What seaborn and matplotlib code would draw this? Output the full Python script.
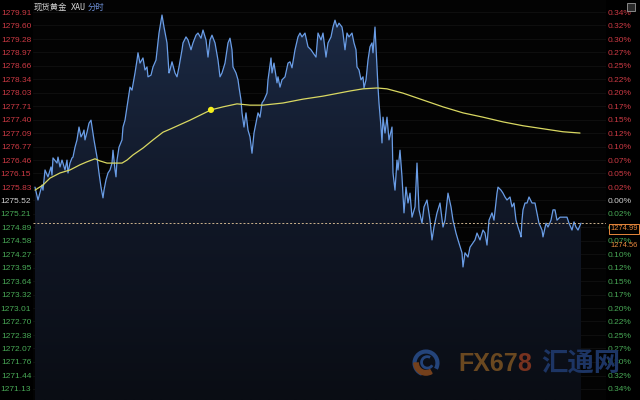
import numpy as np
import pandas as pd
import matplotlib
matplotlib.use("Agg")
import matplotlib.pyplot as plt
import seaborn as sns
from matplotlib.patches import Rectangle, Arc, Wedge
from matplotlib.colors import LinearSegmentedColormap

# ---------------- data ----------------
# sample index along the session (equal time steps)
t_idx = [0, 3, 7, 8, 10, 13, 16, 17, 18, 22,
         23, 25, 27, 28, 30, 32, 33, 35, 37, 38,
         40, 42, 44, 46, 48, 49, 50, 52, 54, 56,
         58, 59, 62, 64, 66, 68, 69, 71, 73, 75,
         77, 78, 80, 81, 82, 84, 87, 88, 90, 93,
         95, 97, 100, 102, 103, 105, 108, 110, 112, 113,
         116, 118, 121, 124, 127, 129, 132, 134, 135, 137,
         140, 142, 144, 147, 148, 151, 153, 156, 158, 161,
         163, 166, 168, 171, 173, 175, 177, 180, 183, 185,
         187, 190, 193, 195, 197, 198, 201, 203, 204, 206,
         207, 209, 211, 213, 215, 217, 219, 221, 223, 225,
         227, 229, 232, 233, 236, 237, 239, 242, 243, 245,
         247, 250, 253, 255, 257, 260, 263, 265, 267, 270,
         273, 276, 278, 281, 283, 286, 288, 291, 293, 296,
         298, 300, 302, 304, 307, 308, 310, 312, 314, 317,
         319, 321, 322, 324, 326, 328, 329, 331, 333, 335,
         337, 338, 340, 341, 342, 343, 344, 346, 347, 348,
         350, 352, 354, 357, 358, 360, 362, 363, 365, 367,
         369, 371, 373, 375, 377, 380, 382, 384, 387, 389,
         392, 395, 397, 399, 402, 405, 408, 410, 413, 416,
         418, 421, 423, 427, 428, 430, 433, 435, 438, 440,
         442, 445, 448, 450, 452, 454, 457, 459, 462, 463,
         466, 468, 470, 472, 475, 477, 479, 481, 483, 485,
         486, 487, 488, 490, 492, 494, 497, 500, 502, 504,
         507, 508, 511, 513, 516, 518, 520, 522, 525, 528,
         532, 534, 537, 539, 541, 543, 546]

price = [1275.83, 1275.53, 1275.88, 1275.76, 1276.23, 1276.07, 1276.30, 1276.11, 1276.51, 1276.39,
         1276.53, 1276.30, 1276.46, 1276.39, 1276.23, 1276.46, 1276.16, 1276.39, 1276.51, 1276.53,
         1276.76, 1276.93, 1277.23, 1277.00, 1277.09, 1277.16, 1276.93, 1277.11, 1277.32, 1277.39,
         1277.09, 1276.93, 1276.53, 1276.16, 1275.83, 1275.58, 1275.76, 1276.00, 1276.16, 1276.23,
         1276.39, 1276.69, 1276.23, 1276.07, 1276.46, 1276.76, 1276.93, 1277.23, 1277.39, 1277.86,
         1278.16, 1278.09, 1278.49, 1278.79, 1278.96, 1278.72, 1278.84, 1278.56, 1278.63, 1278.40,
         1278.44, 1278.63, 1278.79, 1279.42, 1279.84, 1279.56, 1279.19, 1278.49, 1278.56, 1278.75,
         1278.49, 1278.40, 1278.63, 1279.03, 1279.19, 1279.33, 1279.26, 1279.03, 1279.19, 1279.37,
         1279.42, 1279.30, 1279.49, 1279.26, 1278.86, 1279.26, 1279.37, 1279.19, 1278.79, 1278.40,
         1278.49, 1278.72, 1279.19, 1279.30, 1279.03, 1278.63, 1278.49, 1278.33, 1278.16, 1277.86,
         1277.56, 1277.23, 1277.56, 1277.16, 1277.00, 1276.62, 1277.09, 1277.32, 1277.56, 1277.46,
         1277.79, 1277.86, 1278.02, 1278.33, 1278.84, 1278.49, 1278.72, 1278.26, 1278.40, 1278.16,
         1278.33, 1278.40, 1278.72, 1278.75, 1278.61, 1279.03, 1279.33, 1279.42, 1279.33, 1279.42,
         1279.10, 1279.03, 1278.96, 1278.86, 1279.42, 1279.26, 1279.42, 1278.86, 1279.19, 1279.33,
         1279.56, 1279.72, 1279.56, 1279.65, 1279.56, 1279.42, 1279.03, 1279.42, 1279.33, 1279.42,
         1279.19, 1279.03, 1278.63, 1278.56, 1278.33, 1278.40, 1278.14, 1278.33, 1278.79, 1279.10,
         1279.19, 1278.96, 1279.56, 1279.10, 1278.63, 1278.16, 1277.79, 1277.23, 1276.86, 1277.46,
         1277.09, 1277.46, 1276.93, 1277.23, 1276.16, 1275.76, 1276.46, 1276.23, 1276.69, 1276.07,
         1275.23, 1275.83, 1275.46, 1275.69, 1275.13, 1275.37, 1276.39, 1275.30, 1274.99, 1275.37,
         1275.53, 1275.06, 1274.60, 1274.90, 1275.23, 1275.46, 1274.90, 1275.06, 1275.69, 1275.37,
         1275.06, 1274.76, 1274.60, 1274.30, 1273.97, 1274.30, 1274.20, 1274.43, 1274.53, 1274.60,
         1274.76, 1274.60, 1274.83, 1274.76, 1274.48, 1275.06, 1275.23, 1275.06, 1275.69, 1275.83,
         1275.76, 1275.69, 1275.60, 1275.53, 1275.60, 1275.37, 1275.46, 1275.06, 1274.90, 1274.76,
         1274.67, 1275.06, 1275.30, 1275.46, 1275.46, 1275.60, 1275.46, 1275.46, 1275.23, 1274.99,
         1274.83, 1274.67, 1274.99, 1274.90, 1275.06, 1275.30, 1275.30, 1275.06, 1275.13, 1275.13,
         1275.13, 1274.99, 1274.83, 1275.02, 1274.90, 1274.83, 1274.99]

# average-price line
avg_t = [0, 8, 15, 25, 35, 45, 52, 60, 65, 72, 78, 87, 92, 98, 108, 118, 128, 135, 155, 176,
         188, 202, 215, 228, 248, 268, 288, 315, 328, 342, 352, 368, 388, 408, 428, 448, 468,
         488, 508, 528, 545]
avg_p = [1275.76, 1275.88, 1276.04, 1276.16, 1276.23, 1276.35, 1276.42, 1276.49, 1276.44, 1276.39,
         1276.39, 1276.39, 1276.46, 1276.58, 1276.74, 1276.93, 1277.11, 1277.18, 1277.39, 1277.63,
         1277.70, 1277.77, 1277.74, 1277.74, 1277.79, 1277.88, 1277.95, 1278.07, 1278.12, 1278.14,
         1278.12, 1278.02, 1277.86, 1277.70, 1277.56, 1277.46, 1277.35, 1277.26, 1277.19, 1277.12,
         1277.09]
marker_t = 176

last_price = 1274.99
side_price = "1274.56"
base_price = 1275.52

price_labels = ["1279.91", "1279.60", "1279.28", "1278.97", "1278.66", "1278.34", "1278.03",
                "1277.71", "1277.40", "1277.09", "1276.77", "1276.46", "1276.15", "1275.83",
                "1275.52", "1275.21", "1274.89", "1274.58", "1274.27", "1273.95", "1273.64",
                "1273.32", "1273.01", "1272.70", "1272.38", "1272.07", "1271.76", "1271.44",
                "1271.13"]
pct_labels = ["0.34%", "0.32%", "0.30%", "0.27%", "0.25%", "0.22%", "0.20%", "0.17%", "0.15%",
              "0.12%", "0.10%", "0.07%", "0.05%", "0.02%", "0.00%", "0.02%", "0.05%", "0.07%",
              "0.10%", "0.12%", "0.15%", "0.17%", "0.20%", "0.22%", "0.25%", "0.27%", "0.30%",
              "0.32%", "0.34%"]

title_parts = ["现货黄金", "XAU", "分时"]
wm_latin = ["FX67", "8"]
wm_cjk = "汇通网"

# ---------------- styling ----------------
sns.set_theme(style="dark", rc={"axes.facecolor": "#030303", "figure.facecolor": "#000000"})
plt.rcParams["font.family"] = ["Liberation Sans", "DejaVu Sans"]
CJK = ["Noto Sans CJK SC", "DejaVu Sans"]

RED = "#cc3a44"
GREEN = "#48a856"
BASE = "#d2d2d2"
ORANGE = "#e8883c"

W, H = 640, 400
fig = plt.figure(figsize=(6.4, 4.0), dpi=100, facecolor="#000000")
ax = fig.add_axes([33 / W, 0, 573 / W, 1])
ax.set_facecolor("#030303")
X0, X1 = -2, 571
Y0, Y1 = 1270.87, 1280.19
ax.set_xlim(X0, X1)
ax.set_ylim(Y0, Y1)

tick_vals = [float(s) for s in price_labels]

# faint grid
for v in tick_vals:
    ax.axhline(v, color="#111111", lw=0.6, zorder=0.5)

# gradient fill under the price line
poly = ax.fill_between(t_idx, price, Y0, facecolor="none", edgecolor="none")
grad = np.linspace(0, 1, 256).reshape(-1, 1)
cmap = LinearSegmentedColormap.from_list("g", ["#0a0d14", "#111828", "#1c2b46"])
im = ax.imshow(grad, extent=[X0, X1, Y0, Y1], aspect="auto", origin="lower",
               cmap=cmap, zorder=1, interpolation="bilinear")
im.set_clip_path(poly.get_paths()[0], transform=ax.transData)

df = pd.DataFrame({"t": t_idx, "price": price})
dfa = pd.DataFrame({"t": avg_t, "avg": avg_p})

sns.lineplot(data=df, x="t", y="price", ax=ax, color="#6a9de6", lw=0.9,
             estimator=None, zorder=3)
sns.lineplot(data=dfa, x="t", y="avg", ax=ax, color="#d9d862", lw=0.9,
             estimator=None, zorder=4)
mk = dfa[dfa["t"] == marker_t]
sns.scatterplot(data=mk, x="t", y="avg", ax=ax, s=20, color="#f4ee1c",
                edgecolor="none", zorder=5)

ax.axhline(last_price, color="#cdb48e", lw=0.7, ls=(0, (2, 2)), zorder=4)

# left axis labels
ax.set_xticks([])
ax.set_yticks(tick_vals)
ax.set_yticklabels(price_labels)
ax.tick_params(axis="y", length=0, pad=1.2, labelsize=6)
for lab, v in zip(ax.get_yticklabels(), tick_vals):
    lab.set_color(RED if v > base_price else (GREEN if v < base_price else BASE))
ax.set_xlabel("")
ax.set_ylabel("")
for s in ax.spines.values():
    s.set_visible(False)

# right axis percent labels
ax2 = ax.twinx()
ax2.set_ylim(Y0, Y1)
ax2.set_yticks(tick_vals)
ax2.set_yticklabels(pct_labels)
ax2.tick_params(axis="y", length=0, pad=1.4, labelsize=6)
for lab, v in zip(ax2.get_yticklabels(), tick_vals):
    lab.set_color(RED if v > base_price else (GREEN if v < base_price else BASE))
ax2.grid(False)
for s in ax2.spines.values():
    s.set_visible(False)

# current price box and side value
fig.text(610 / W, 1 - 228.5 / H, f"{last_price:.2f}", color=ORANGE, fontsize=5.4,
         va="center", ha="left", zorder=10,
         bbox=dict(facecolor="#000000", edgecolor=ORANGE, boxstyle="square,pad=0.2", lw=0.7))
fig.text(610 / W, 1 - 245 / H, side_price, color=ORANGE, fontsize=5.4,
         va="center", ha="left", zorder=10)

# title
fig.text(34 / W, 1 - 7 / H, title_parts[0], family=CJK, fontsize=6, color="#d4d4d4", va="center")
fig.text(71 / W, 1 - 7 / H, title_parts[1], family="DejaVu Sans Mono", fontsize=6,
         color="#d4d4d4", va="center")
fig.text(88 / W, 1 - 7 / H, title_parts[2], family=CJK, fontsize=6, color="#6d8fd6", va="center")

# top-right icon
fig.add_artist(Rectangle((627 / W, 1 - 11 / H), 8 / W, 8 / H, transform=fig.transFigure,
                         facecolor="#2a2a2a", edgecolor="#9a9a9a", lw=0.6))

# watermark
fig.canvas.draw()
t1 = fig.text(458 / W, 1 - 364 / H, wm_latin[0], fontsize=18, weight="bold",
              color="#6a4820", va="center", ha="left", zorder=2)
fig.canvas.draw()
bb = t1.get_window_extent()
fig.text(bb.x1 / W, 1 - 364 / H, wm_latin[1], fontsize=18, weight="bold",
         color="#78321f", va="center", ha="left", zorder=2)
fig.text(541 / W, 1 - 364 / H, wm_cjk, family=CJK, fontsize=19, weight="bold",
         color="#1d3564", va="center", ha="left", zorder=1)

lax = fig.add_axes([412 / W, 1 - 377 / H, 28 / W, 28 / H])
lax.set_xlim(-1.1, 1.1)
lax.set_ylim(-1.1, 1.1)
lax.set_aspect("equal")
lax.axis("off")
lax.add_patch(Arc((0, 0), 1.8, 1.8, theta1=-30, theta2=250, color="#24447a", lw=3))
lax.add_patch(Arc((0.1, 0.05), 0.9, 0.9, theta1=60, theta2=330, color="#24447a", lw=2))
lax.add_patch(Wedge((0, 0), 0.95, 180, 300, width=0.35, color="#74401c"))

fig.savefig("out.png", dpi=100, facecolor="#000000")
